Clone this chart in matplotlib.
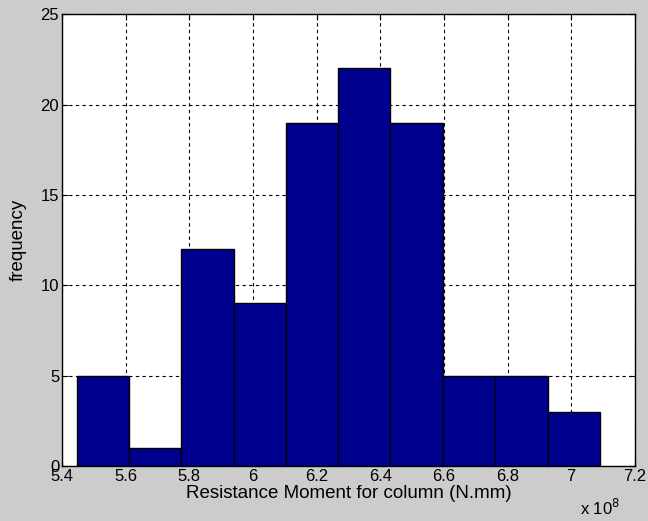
import matplotlib
matplotlib.use("Agg")
import matplotlib.pyplot as plt

plt.rcParams['font.family'] = ['Liberation Sans', 'DejaVu Sans']

# data (x in units of 1e8 N.mm)
bin_edges = [5.446, 5.610, 5.775, 5.939, 6.104, 6.268, 6.432, 6.597, 6.761, 6.926, 7.090]
counts = [5, 1, 12, 9, 19, 22, 19, 5, 5, 3]
x_ticks = [5.4, 5.6, 5.8, 6.0, 6.2, 6.4, 6.6, 6.8, 7.0, 7.2]
x_tick_labels = ['5.4', '5.6', '5.8', '6', '6.2', '6.4', '6.6', '6.8', '7', '7.2']
y_ticks = [0, 5, 10, 15, 20, 25]

fig = plt.figure(figsize=(6.48, 5.21), dpi=100, facecolor='#cccccc')
ax = fig.add_axes([0.0957, 0.1056, 0.884, 0.867])
ax.set_facecolor('white')

lefts = bin_edges[:-1]
widths = [b - a for a, b in zip(bin_edges[:-1], bin_edges[1:])]
ax.bar(lefts, counts, width=widths, align='edge', color='#00008f',
       edgecolor='black', linewidth=1.0, zorder=3)

ax.set_xlim(5.4, 7.2)
ax.set_ylim(0, 25)
ax.set_xticks(x_ticks)
ax.set_xticklabels(x_tick_labels)
ax.set_yticks(y_ticks)
ax.grid(True, color='black', linestyle=(0, (3, 3)), linewidth=0.8, zorder=1)
ax.set_axisbelow(True)
ax.tick_params(direction='in', labelsize=12, pad=2, length=4, top=True, right=True)
for s in ax.spines.values():
    s.set_linewidth(1.0)
    s.set_zorder(4)

ax.set_xlabel('Resistance Moment for column (N.mm)', fontsize=13.5, labelpad=1)
ax.set_ylabel('frequency', fontsize=13.5, labelpad=10)
fig.text(0.895, 0.005, r'x 10$^{8}$', fontsize=12, ha='left', va='bottom')

fig.savefig('out.png', dpi=100, facecolor=fig.get_facecolor())
